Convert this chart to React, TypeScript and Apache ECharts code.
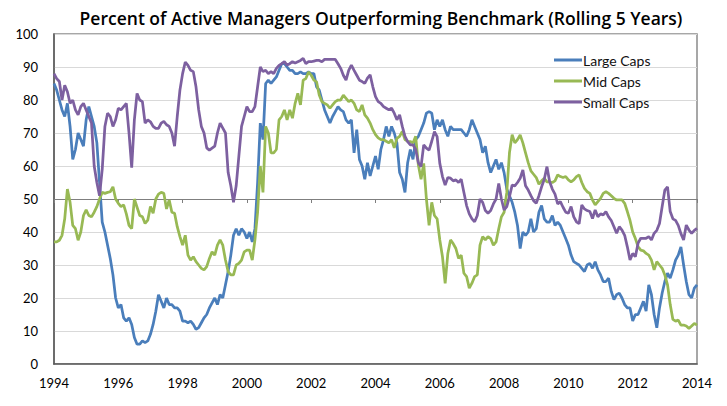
import React, { useEffect, useRef } from "react";
import * as echarts from "echarts";

const TITLE = "Percent of Active Managers Outperforming Benchmark (Rolling 5 Years)";
const START_YEAR = 1994;
const END_YEAR = 2014;
const SERIES_NAMES = ["Large Caps", "Mid Caps", "Small Caps"];
const COLORS = ["#4A7EBB", "#98B954", "#7D60A0"];

// Monthly values, Jan 1994 .. Jan 2014
const largeCaps = [
  85, 83, 80, 77, 75, 79, 72, 62, 65, 70, 68, 66,
  74, 78, 75, 72, 67, 55, 43, 40, 36, 32, 27, 20,
  17, 18, 14, 13, 14, 12, 8, 6, 6, 7, 6.5, 7,
  9, 12, 16, 21, 19, 17, 20, 18, 18, 17, 17, 16,
  13, 13, 12.5, 13, 12, 10.5, 11, 12.5, 14, 15, 17, 18.5,
  20, 18, 21, 20, 24, 28, 33, 39, 41, 39, 41, 40, 38, 40, 37, 41,
  55, 73, 68, 85, 86, 85, 86, 87,
  89, 91, 91, 90, 89, 89, 88, 88, 88.5, 88, 88, 88.5,
  88, 88, 84, 83, 80, 77, 75, 73, 75, 76.5, 78, 77,
  76.5, 74, 73, 74, 64, 71, 62, 60, 56, 61, 57, 60,
  63, 59, 65, 68, 72, 69, 72, 70, 67, 58, 56, 52,
  61, 65, 62, 68, 69, 71, 73, 76, 76.5, 76, 71, 74,
  72, 74, 71, 69, 72, 71, 71, 71, 71, 70, 69, 71,
  74, 72, 70, 68, 64, 66, 61, 58, 60, 62, 59, 61,
  58, 53, 51, 49, 46, 42, 35, 40, 39, 40, 44, 40,
  41, 46, 48, 44, 43, 43, 45, 42, 43, 42, 40, 38,
  36, 33, 31, 30.5, 30, 29, 28, 30, 30.5, 29, 31, 28.5,
  27, 25, 25, 26, 22, 19.5, 21, 21.5, 20, 18, 17, 17,
  13, 15, 15, 17, 19, 16, 24, 21, 15, 11, 17, 21.5,
  25, 27.5, 26, 28.5, 31.5, 33, 35.5, 30, 25, 21, 20, 23, 24,
];

const midCaps = [
  37, 37, 37.5, 39, 44, 53, 49, 42, 41, 37.5, 40, 45,
  46.7, 45, 44.6, 46, 47.7, 50, 52, 51.7, 52, 52.2, 53.7, 50,
  48.7, 47.7, 48.2, 45.5, 42, 41, 50, 47.5, 45, 44.6, 42.6, 43.6,
  47.7, 45.7, 50, 51.5, 52, 51.7, 47, 49.7, 46, 45.7, 41.6, 38.6,
  36, 39, 33, 31.5, 32.5, 31, 30, 29, 28.5, 29.5, 32, 34,
  33, 36, 37.6, 36, 31.5, 28, 27, 27, 30, 30.5, 31.5, 34,
  34.5, 34.5, 31.5, 37.6, 46, 60, 52, 72, 70, 64, 64, 65,
  74, 75, 77, 74, 77, 74.5, 79, 82, 78.5, 86, 86.5, 88.5,
  87.5, 86, 85.5, 81.5, 79.5, 79, 78.5, 77.5, 78.5, 79.5, 80, 80,
  81.5, 80.5, 79.5, 80, 79, 77, 76.5, 78.5, 75.5, 74.5, 73, 71,
  69.5, 68.5, 68, 68, 67.5, 67, 68, 65.5, 68.4, 69, 70.5, 68,
  67.5, 67.4, 67, 69, 60.3, 56, 60.8, 50, 42, 49, 45, 44,
  37.6, 32.5, 24.4, 33.5, 37.6, 36.5, 35, 32, 33, 27.5, 26.5, 23,
  24.5, 26.5, 27, 36, 38.6, 37.6, 38.6, 38, 36, 37, 41, 44.6,
  46, 52, 64, 69.5, 67, 68, 69.4, 67, 64, 61, 58.5, 57.5,
  56.5, 54.5, 55.5, 56.3, 55.2, 55.2, 55, 55.5, 57.3, 56.8, 56.5, 56.8,
  55.8, 55.2, 55.8, 56.8, 57.3, 55, 53.2, 52.2, 51.7, 49.7, 48.2, 49.2,
  50.2, 51.7, 52.2, 51.7, 51, 50.2, 49.7, 49.7, 49.7, 48.7, 46.2, 43.5,
  40, 38, 35.6, 34.5, 34.3, 33.5, 33, 31.5, 28.5, 31, 30, 29,
  27, 24, 18, 13.5, 13, 13.3, 11.8, 11.8, 11.5, 10.8, 11.5, 12.3, 11.8,
];

const smallCaps = [
  88, 86.5, 85.6, 80, 84.5, 82.5, 79, 80, 77, 75.5, 78, 79,
  77, 75, 73, 60, 55, 51, 59, 72, 76, 75, 72, 74,
  77.5, 77, 78, 79, 70, 59.5, 74, 82, 80, 79.5, 73, 74,
  73.4, 72, 71.4, 71.4, 73, 73.5, 72.5, 72, 70, 66, 75, 83,
  88, 91.5, 90.5, 89, 88.6, 84, 77, 72, 70, 65.5, 64.8, 65.4,
  66, 70, 73, 71.5, 70, 58, 54, 49, 54, 63, 72, 75,
  78, 76.5, 76.5, 78, 84, 90, 88.6, 89, 88, 88.6, 88, 89.6,
  90.5, 91, 91.6, 90.6, 91, 91.6, 91.2, 91.6, 92, 92.6, 91, 91.6,
  91.6, 91.8, 92, 92, 91.6, 92.3, 92.3, 92.3, 92.3, 92.3, 91, 89.6,
  87.5, 86, 89, 90.6, 89, 87.5, 86, 85.6, 85, 86.6, 87.6, 84,
  81, 79.5, 79, 78, 77.5, 77, 77.5, 76, 74, 75.5, 72, 69,
  67.4, 66.4, 66.4, 65, 61, 59.8, 66.4, 65.4, 64.8, 67.5, 70.4, 68.9,
  60.8, 56.8, 54.2, 56.5, 56.3, 55.5, 55.8, 55, 56, 52, 48, 45.5,
  44, 43.1, 45, 50, 49, 46.5, 45.7, 46.5, 48.5, 50, 54.7, 50,
  46.7, 47.7, 50.7, 54.2, 54, 55, 56.3, 58.8, 54, 52.7, 51, 49.5,
  48.7, 51, 53.7, 56, 59.8, 55.2, 53, 51.5, 48.5, 49.2, 47.5, 46,
  45.7, 47.7, 44.6, 43.1, 42.5, 48.2, 47, 46.5, 46.2, 44.1, 46.7, 44.6,
  45.5, 45.2, 46.2, 44.6, 43.5, 41.6, 39.6, 41.6, 40.6, 39, 35.5, 31.5,
  33.5, 32.5, 36.6, 38.1, 38.1, 38.1, 38.6, 37.6, 39.6, 40.5, 42.6, 47.7,
  52.7, 53.7, 46.2, 44, 43.5, 42, 39.5, 37.6, 42.1, 40.6, 39.6, 40.5, 41.1,
];

const FONT = "Lato, 'Open Sans', sans-serif";

function toPoints(values: number[]) {
  return values.map((v, i) => [START_YEAR + i / 12, v]);
}

export default function App() {
  const ref = useRef<HTMLDivElement>(null);
  useEffect(() => {
    if (!ref.current) return;
    const chart = echarts.init(ref.current, null, { renderer: "svg" });
    const allSeries = [largeCaps, midCaps, smallCaps];
    chart.setOption({
      animation: false,
      backgroundColor: "#ffffff",
      title: {
        text: TITLE,
        left: 376,
        textAlign: "center",
        top: 4,
        textStyle: { fontFamily: "'Open Sans', sans-serif", fontWeight: 600, fontSize: 17.5, color: "#000" },
      },
      grid: {
        left: 54,
        right: 30,
        top: 34,
        bottom: 42,
        show: true,
        borderColor: "#8a8a8a",
        borderWidth: 1.5,
        backgroundColor: "transparent",
      },
      legend: {
        orient: "vertical",
        left: 549,
        top: 48,
        icon: "rect",
        itemWidth: 28,
        itemHeight: 3,
        itemGap: 7,
        data: SERIES_NAMES,
        textStyle: { fontFamily: FONT, fontSize: 14, color: "#111", padding: [0, 0, 0, -4] },
      },
      xAxis: [
        {
          type: "value",
          min: START_YEAR,
          max: END_YEAR,
          interval: 2,
          axisLine: { show: true, onZero: false, lineStyle: { color: "#595959", width: 1.5 } },
          axisTick: { show: false },
          axisLabel: {
            formatter: (v: number) => String(v),
            fontFamily: FONT,
            fontSize: 13,
            color: "#000",
            margin: 12,
          },
          splitLine: { show: false },
        },
        {
          type: "value",
          min: START_YEAR,
          max: END_YEAR,
          interval: 2,
          position: "bottom",
          offset: -165,
          axisLine: { show: true, onZero: false, lineStyle: { color: "#7f7f7f", width: 1 } },
          axisTick: { show: true, length: 4, lineStyle: { color: "#7f7f7f" } },
          axisLabel: { show: false },
          splitLine: { show: false },
        },
      ],
      yAxis: {
        type: "value",
        min: 0,
        max: 100,
        interval: 10,
        axisLine: { show: true, lineStyle: { color: "#595959", width: 1.5 } },
        axisTick: { show: false },
        axisLabel: { fontFamily: FONT, fontSize: 13, color: "#000", margin: 16 },
        splitLine: { lineStyle: { color: "#d9d9d9", width: 1 } },
      },
      series: SERIES_NAMES.map((name, i) => ({
        name,
        type: "line",
        xAxisIndex: 0,
        showSymbol: false,
        symbol: "none",
        data: toPoints(allSeries[i]),
        itemStyle: { color: COLORS[i] },
        lineStyle: { color: COLORS[i], width: 2.75 },
      })),
    });
    return () => chart.dispose();
  }, []);
  return (
    <div
      ref={ref}
      style={{ position: "fixed", left: 0, top: 0, width: 727, height: 406 }}
    />
  );
}
